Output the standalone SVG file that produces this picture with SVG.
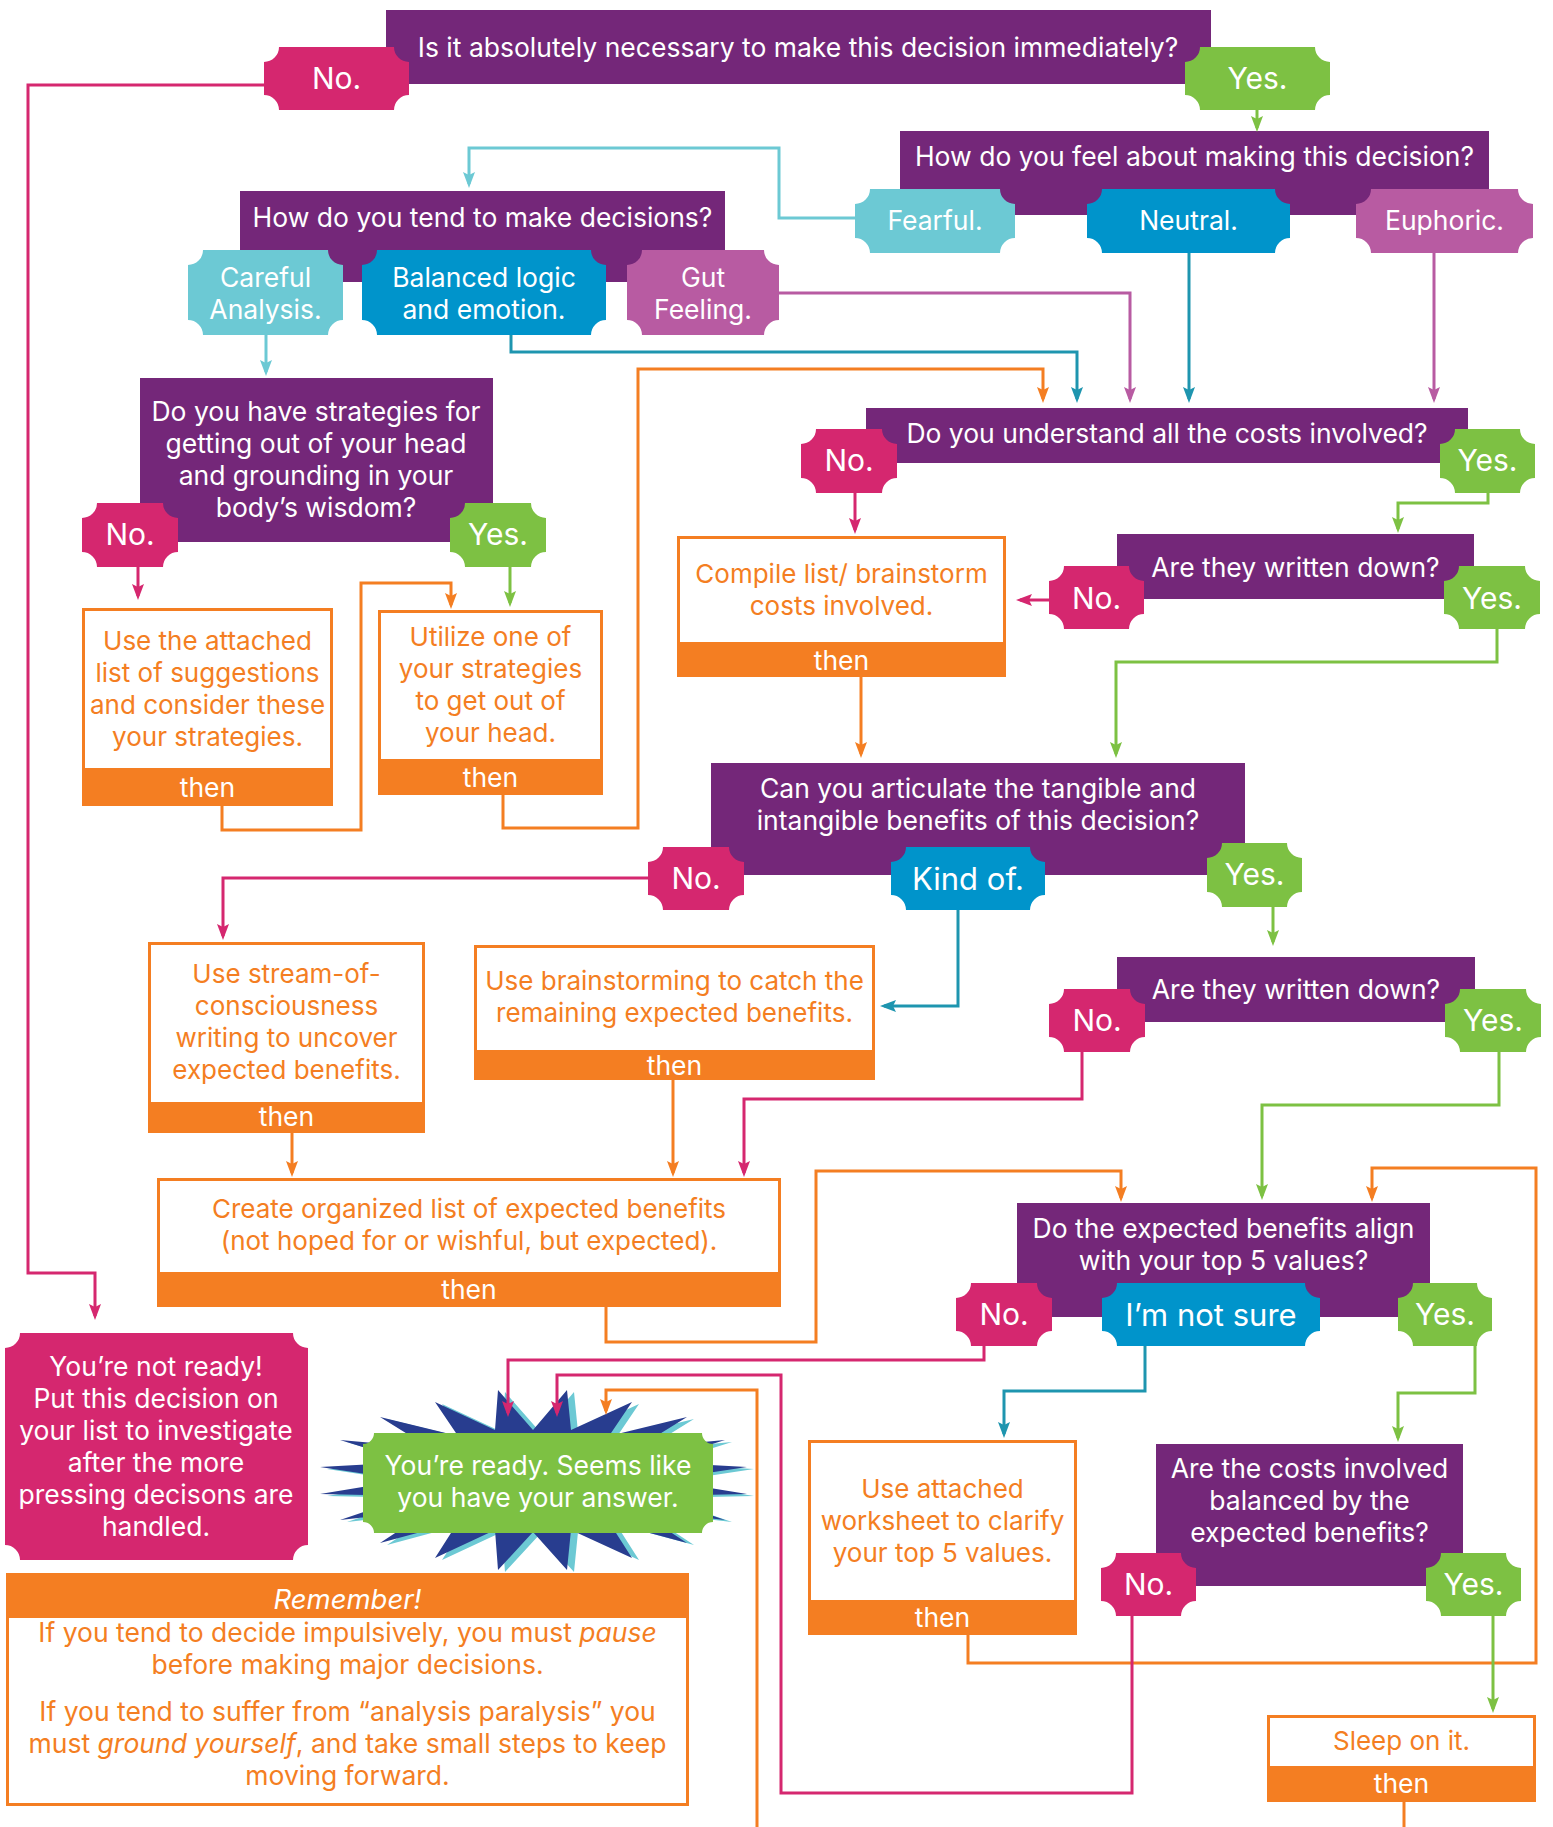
<svg xmlns="http://www.w3.org/2000/svg" width="1553" height="1827" viewBox="0 0 1553 1827">
<style>
text{font-family:Inter,'Open Sans','Liberation Sans',sans-serif;text-anchor:middle}
.q{fill:#742779}
.qt{fill:#fff;font-size:26.5px}
.pk{fill:#D5276F}.gr{fill:#7DC143}.lt{fill:#6CC9D4}.bl{fill:#0094CB}.mv{fill:#B85BA2}
.tt{fill:#fff;font-size:30px}
.tb{fill:#fff;font-size:31px}
.tm{fill:#fff;font-size:26.5px}
.ob{fill:#fff;stroke:#F47E22;stroke-width:3}
.bar{fill:#F47E22}
.ot{fill:#F47E22;font-size:26px}
.th{fill:#fff;font-size:26.5px}
.c{fill:none;stroke-width:3}
.cP{stroke:#D5276F;marker-end:url(#aP)}
.cG{stroke:#7DC143;marker-end:url(#aG)}
.cL{stroke:#6CC9D4;marker-end:url(#aL)}
.cD{stroke:#1E95AF;marker-end:url(#aD)}
.cM{stroke:#B85BA2;marker-end:url(#aM)}
.cO{stroke:#F47E22;marker-end:url(#aO)}
.cOn{stroke:#F47E22}
</style>
<defs>
<marker id="aP" viewBox="0 0 16 12" refX="12" refY="6" markerWidth="16" markerHeight="12" markerUnits="userSpaceOnUse" orient="auto"><path d="M0,0 L16,6 L0,12 L3,6 Z" fill="#D5276F"/></marker>
<marker id="aG" viewBox="0 0 16 12" refX="12" refY="6" markerWidth="16" markerHeight="12" markerUnits="userSpaceOnUse" orient="auto"><path d="M0,0 L16,6 L0,12 L3,6 Z" fill="#7DC143"/></marker>
<marker id="aL" viewBox="0 0 16 12" refX="12" refY="6" markerWidth="16" markerHeight="12" markerUnits="userSpaceOnUse" orient="auto"><path d="M0,0 L16,6 L0,12 L3,6 Z" fill="#6CC9D4"/></marker>
<marker id="aD" viewBox="0 0 16 12" refX="12" refY="6" markerWidth="16" markerHeight="12" markerUnits="userSpaceOnUse" orient="auto"><path d="M0,0 L16,6 L0,12 L3,6 Z" fill="#1E95AF"/></marker>
<marker id="aM" viewBox="0 0 16 12" refX="12" refY="6" markerWidth="16" markerHeight="12" markerUnits="userSpaceOnUse" orient="auto"><path d="M0,0 L16,6 L0,12 L3,6 Z" fill="#B85BA2"/></marker>
<marker id="aO" viewBox="0 0 16 12" refX="12" refY="6" markerWidth="16" markerHeight="12" markerUnits="userSpaceOnUse" orient="auto"><path d="M0,0 L16,6 L0,12 L3,6 Z" fill="#F47E22"/></marker>
<polygon id="star" points="435,1402 495,1430 498,1390 533,1430 567,1390 571,1430 632,1402 609,1436 687,1417 637,1448 725,1440 655,1462 747,1467 661,1480 747,1494 655,1496 725,1520 637,1510 687,1543 609,1522 632,1558 571,1530 567,1570 533,1532 498,1570 495,1530 435,1558 458,1522 380,1543 430,1510 340,1520 411,1496 320,1494 405,1480 320,1467 411,1462 340,1440 430,1448 380,1417 458,1436"/>
</defs>
<rect width="1553" height="1827" fill="#fff"/>

<g id="q-immediately">
<rect class="q" x="386" y="10" width="825" height="74"/>
<text class="qt" x="798" y="57">Is it absolutely necessary to make this decision immediately?</text>
<path class="pk" d="M279,47 H394 A15,15 0 0 0 409,62 V95 A15,15 0 0 0 394,110 H279 A15,15 0 0 0 264,95 V62 A15,15 0 0 0 279,47 Z"/>
<text class="tt" x="336.5" y="89">No.</text>
<path class="gr" d="M1200,47 H1315 A15,15 0 0 0 1330,62 V95 A15,15 0 0 0 1315,110 H1200 A15,15 0 0 0 1185,95 V62 A15,15 0 0 0 1200,47 Z"/>
<text class="tt" x="1257.5" y="89">Yes.</text>
</g>

<g id="q-feel">
<rect class="q" x="900" y="131" width="589" height="84"/>
<text class="qt" x="1194.5" y="166">How do you feel about making this decision?</text>
<path class="lt" d="M870,189 H1000 A15,15 0 0 0 1015,204 V238 A15,15 0 0 0 1000,253 H870 A15,15 0 0 0 855,238 V204 A15,15 0 0 0 870,189 Z"/>
<text class="tm" x="935" y="230">Fearful.</text>
<path class="bl" d="M1102,189 H1275 A15,15 0 0 0 1290,204 V238 A15,15 0 0 0 1275,253 H1102 A15,15 0 0 0 1087,238 V204 A15,15 0 0 0 1102,189 Z"/>
<text class="tm" x="1188.5" y="230">Neutral.</text>
<path class="mv" d="M1371,189 H1518 A15,15 0 0 0 1533,204 V238 A15,15 0 0 0 1518,253 H1371 A15,15 0 0 0 1356,238 V204 A15,15 0 0 0 1371,189 Z"/>
<text class="tm" x="1444.5" y="230">Euphoric.</text>
</g>

<g id="q-tend">
<rect class="q" x="240" y="191" width="485" height="91"/>
<text class="qt" x="482.5" y="227">How do you tend to make decisions?</text>
<path class="lt" d="M203,250 H328 A15,15 0 0 0 343,265 V320 A15,15 0 0 0 328,335 H203 A15,15 0 0 0 188,320 V265 A15,15 0 0 0 203,250 Z"/>
<text class="tm"><tspan x="265.5" y="287">Careful</tspan><tspan x="265.5" y="319">Analysis.</tspan></text>
<path class="bl" d="M377,250 H591 A15,15 0 0 0 606,265 V320 A15,15 0 0 0 591,335 H377 A15,15 0 0 0 362,320 V265 A15,15 0 0 0 377,250 Z"/>
<text class="tm"><tspan x="484" y="287">Balanced logic</tspan><tspan x="484" y="319">and emotion.</tspan></text>
<path class="mv" d="M642,250 H764 A15,15 0 0 0 779,265 V320 A15,15 0 0 0 764,335 H642 A15,15 0 0 0 627,320 V265 A15,15 0 0 0 642,250 Z"/>
<text class="tm"><tspan x="703" y="287">Gut</tspan><tspan x="703" y="319">Feeling.</tspan></text>
</g>

<g id="q-strategies">
<rect class="q" x="140" y="378" width="353" height="164"/>
<text class="qt"><tspan x="316" y="421">Do you have strategies for</tspan><tspan x="316" y="453">getting out of your head</tspan><tspan x="316" y="485">and grounding in your</tspan><tspan x="316" y="517">body’s wisdom?</tspan></text>
<path class="pk" d="M97,503 H163 A15,15 0 0 0 178,518 V552 A15,15 0 0 0 163,567 H97 A15,15 0 0 0 82,552 V518 A15,15 0 0 0 97,503 Z"/>
<text class="tt" x="130" y="545">No.</text>
<path class="gr" d="M465,503 H531 A15,15 0 0 0 546,518 V552 A15,15 0 0 0 531,567 H465 A15,15 0 0 0 450,552 V518 A15,15 0 0 0 465,503 Z"/>
<text class="tt" x="498" y="545">Yes.</text>
</g>

<g id="a-attached-list">
<rect class="ob" x="83.5" y="609.5" width="248" height="160"/>
<rect class="bar" x="82" y="768" width="251" height="38"/>
<text class="ot"><tspan x="207.5" y="650">Use the attached</tspan><tspan x="207.5" y="682">list of suggestions</tspan><tspan x="207.5" y="714">and consider these</tspan><tspan x="207.5" y="746">your strategies.</tspan></text>
<text class="th" x="207.5" y="797">then</text>
</g>

<g id="a-utilize">
<rect class="ob" x="379.5" y="611.5" width="222" height="149"/>
<rect class="bar" x="378" y="759" width="225" height="36"/>
<text class="ot"><tspan x="490.5" y="646">Utilize one of</tspan><tspan x="490.5" y="678">your strategies</tspan><tspan x="490.5" y="710">to get out of</tspan><tspan x="490.5" y="742">your head.</tspan></text>
<text class="th" x="490.5" y="787">then</text>
</g>

<g id="q-costs">
<rect class="q" x="866" y="408" width="602" height="55"/>
<text class="qt" x="1167" y="443">Do you understand all the costs involved?</text>
<path class="pk" d="M816,429 H882 A15,15 0 0 0 897,444 V478 A15,15 0 0 0 882,493 H816 A15,15 0 0 0 801,478 V444 A15,15 0 0 0 816,429 Z"/>
<text class="tt" x="849" y="471">No.</text>
<path class="gr" d="M1455,429 H1520 A15,15 0 0 0 1535,444 V478 A15,15 0 0 0 1520,493 H1455 A15,15 0 0 0 1440,478 V444 A15,15 0 0 0 1455,429 Z"/>
<text class="tt" x="1487.5" y="471">Yes.</text>
</g>

<g id="a-compile">
<rect class="ob" x="678.5" y="537.5" width="326" height="106"/>
<rect class="bar" x="677" y="642" width="329" height="35"/>
<text class="ot"><tspan x="841.5" y="583">Compile list/ brainstorm</tspan><tspan x="841.5" y="615">costs involved.</tspan></text>
<text class="th" x="841.5" y="670">then</text>
</g>

<g id="q-written-costs">
<rect class="q" x="1117" y="534" width="357" height="65"/>
<text class="qt" x="1295.5" y="577">Are they written down?</text>
<path class="pk" d="M1064,566 H1129 A15,15 0 0 0 1144,581 V614 A15,15 0 0 0 1129,629 H1064 A15,15 0 0 0 1049,614 V581 A15,15 0 0 0 1064,566 Z"/>
<text class="tt" x="1096.5" y="609">No.</text>
<path class="gr" d="M1459,566 H1525 A15,15 0 0 0 1540,581 V614 A15,15 0 0 0 1525,629 H1459 A15,15 0 0 0 1444,614 V581 A15,15 0 0 0 1459,566 Z"/>
<text class="tt" x="1492" y="609">Yes.</text>
</g>

<g id="q-benefits">
<rect class="q" x="711" y="763" width="534" height="112"/>
<text class="qt"><tspan x="978" y="798">Can you articulate the tangible and</tspan><tspan x="978" y="830">intangible benefits of this decision?</tspan></text>
<path class="pk" d="M663,847 H729 A15,15 0 0 0 744,862 V895 A15,15 0 0 0 729,910 H663 A15,15 0 0 0 648,895 V862 A15,15 0 0 0 663,847 Z"/>
<text class="tt" x="696" y="889">No.</text>
<path class="bl" d="M906,847 H1030 A15,15 0 0 0 1045,862 V895 A15,15 0 0 0 1030,910 H906 A15,15 0 0 0 891,895 V862 A15,15 0 0 0 906,847 Z"/>
<text class="tb" x="968" y="890">Kind of.</text>
<path class="gr" d="M1222,843 H1287 A15,15 0 0 0 1302,858 V892 A15,15 0 0 0 1287,907 H1222 A15,15 0 0 0 1207,892 V858 A15,15 0 0 0 1222,843 Z"/>
<text class="tt" x="1254.5" y="885">Yes.</text>
</g>

<g id="q-written-benefits">
<rect class="q" x="1117" y="957" width="358" height="65"/>
<text class="qt" x="1296" y="999">Are they written down?</text>
<path class="pk" d="M1064,989 H1130 A15,15 0 0 0 1145,1004 V1037 A15,15 0 0 0 1130,1052 H1064 A15,15 0 0 0 1049,1037 V1004 A15,15 0 0 0 1064,989 Z"/>
<text class="tt" x="1097" y="1031">No.</text>
<path class="gr" d="M1460,989 H1526 A15,15 0 0 0 1541,1004 V1037 A15,15 0 0 0 1526,1052 H1460 A15,15 0 0 0 1445,1037 V1004 A15,15 0 0 0 1460,989 Z"/>
<text class="tt" x="1493" y="1031">Yes.</text>
</g>

<g id="a-stream">
<rect class="ob" x="149.5" y="943.5" width="274" height="160"/>
<rect class="bar" x="148" y="1102" width="277" height="31"/>
<text class="ot"><tspan x="286.5" y="983">Use stream-of-</tspan><tspan x="286.5" y="1015">consciousness</tspan><tspan x="286.5" y="1047">writing to uncover</tspan><tspan x="286.5" y="1079">expected benefits.</tspan></text>
<text class="th" x="286.5" y="1126">then</text>
</g>

<g id="a-brainstorm">
<rect class="ob" x="475.5" y="946.5" width="398" height="105"/>
<rect class="bar" x="474" y="1050" width="401" height="30"/>
<text class="ot"><tspan x="674.5" y="990">Use brainstorming to catch the</tspan><tspan x="674.5" y="1022">remaining expected benefits.</tspan></text>
<text class="th" x="674.5" y="1075">then</text>
</g>

<g id="a-create">
<rect class="ob" x="158.5" y="1179.5" width="621" height="94"/>
<rect class="bar" x="157" y="1272" width="624" height="35"/>
<text class="ot"><tspan x="469" y="1218">Create organized list of expected benefits</tspan><tspan x="469" y="1250">(not hoped for or wishful, but expected).</tspan></text>
<text class="th" x="469" y="1299">then</text>
</g>

<g id="q-values">
<rect class="q" x="1017" y="1203" width="413" height="114"/>
<text class="qt"><tspan x="1223.5" y="1238">Do the expected benefits align</tspan><tspan x="1223.5" y="1270">with your top 5 values?</tspan></text>
<path class="pk" d="M971,1283 H1037 A15,15 0 0 0 1052,1298 V1331 A15,15 0 0 0 1037,1346 H971 A15,15 0 0 0 956,1331 V1298 A15,15 0 0 0 971,1283 Z"/>
<text class="tt" x="1004" y="1325">No.</text>
<path class="bl" d="M1117,1283 H1305 A15,15 0 0 0 1320,1298 V1331 A15,15 0 0 0 1305,1346 H1117 A15,15 0 0 0 1102,1331 V1298 A15,15 0 0 0 1117,1283 Z"/>
<text class="tb" x="1211" y="1326">I’m not sure</text>
<path class="gr" d="M1413,1283 H1477 A15,15 0 0 0 1492,1298 V1331 A15,15 0 0 0 1477,1346 H1413 A15,15 0 0 0 1398,1331 V1298 A15,15 0 0 0 1413,1283 Z"/>
<text class="tt" x="1445" y="1325">Yes.</text>
</g>

<g id="a-worksheet">
<rect class="ob" x="809.5" y="1441.5" width="266" height="160"/>
<rect class="bar" x="808" y="1600" width="269" height="35"/>
<text class="ot"><tspan x="942.5" y="1498">Use attached</tspan><tspan x="942.5" y="1530">worksheet to clarify</tspan><tspan x="942.5" y="1562">your top 5 values.</tspan></text>
<text class="th" x="942.5" y="1627">then</text>
</g>

<g id="q-balanced">
<rect class="q" x="1156" y="1444" width="307" height="142"/>
<text class="qt"><tspan x="1309.5" y="1478">Are the costs involved</tspan><tspan x="1309.5" y="1510">balanced by the</tspan><tspan x="1309.5" y="1542">expected benefits?</tspan></text>
<path class="pk" d="M1116,1553 H1181 A15,15 0 0 0 1196,1568 V1601 A15,15 0 0 0 1181,1616 H1116 A15,15 0 0 0 1101,1601 V1568 A15,15 0 0 0 1116,1553 Z"/>
<text class="tt" x="1148.5" y="1595">No.</text>
<path class="gr" d="M1441,1553 H1506 A15,15 0 0 0 1521,1568 V1601 A15,15 0 0 0 1506,1616 H1441 A15,15 0 0 0 1426,1601 V1568 A15,15 0 0 0 1441,1553 Z"/>
<text class="tt" x="1473.5" y="1595">Yes.</text>
</g>

<g id="a-sleep">
<rect class="ob" x="1268.5" y="1716.5" width="266" height="51"/>
<rect class="bar" x="1267" y="1766" width="269" height="36"/>
<text class="ot" x="1401.5" y="1750">Sleep on it.</text>
<text class="th" x="1401.5" y="1793">then</text>
</g>

<g id="r-not-ready">
<path class="pk" d="M20,1333 H293 A15,15 0 0 0 308,1348 V1545 A15,15 0 0 0 293,1560 H20 A15,15 0 0 0 5,1545 V1348 A15,15 0 0 0 20,1333 Z"/>
<text class="tm"><tspan x="156" y="1376">You’re not ready!</tspan><tspan x="156" y="1408">Put this decision on</tspan><tspan x="156" y="1440">your list to investigate</tspan><tspan x="156" y="1472">after the more</tspan><tspan x="156" y="1504">pressing decisons are</tspan><tspan x="156" y="1536">handled.</tspan></text>
</g>

<g id="r-ready">
<use href="#star" transform="translate(7,2)" fill="#6CC9D4"/>
<use href="#star" fill="#283D8F"/>
<path class="gr" d="M374,1433 H702 A11,11 0 0 0 713,1444 V1522 A11,11 0 0 0 702,1533 H374 A11,11 0 0 0 363,1522 V1444 A11,11 0 0 0 374,1433 Z"/>
<text class="tm"><tspan x="538" y="1475">You’re ready. Seems like</tspan><tspan x="538" y="1507">you have your answer.</tspan></text>
</g>

<g id="n-remember">
<rect class="ob" x="7.5" y="1574.5" width="680" height="230"/>
<rect class="bar" x="6" y="1573" width="683" height="45"/>
<text class="th" x="347.5" y="1609" font-style="italic" style="font-size:27.5px">Remember!</text>
<text class="ot" style="font-size:26.5px"><tspan x="347.5" y="1642">If you tend to decide impulsively, you must <tspan font-style="italic">pause</tspan></tspan><tspan x="347.5" y="1674">before making major decisions.</tspan><tspan x="347.5" y="1721">If you tend to suffer from “analysis paralysis” you</tspan><tspan x="347.5" y="1753">must <tspan font-style="italic">ground yourself</tspan>, and take small steps to keep</tspan><tspan x="347.5" y="1785">moving forward.</tspan></text>
</g>

<g id="connectors">
<path class="c cP" d="M264,85 H28 V1273 H95 V1316"/>
<path class="c cG" d="M1257,110 V128"/>
<path class="c cL" d="M855,218 H779 V148 H469 V184"/>
<path class="c cL" d="M266,335 V372"/>
<path class="c cD" d="M511,335 V352 H1077 V399"/>
<path class="c cM" d="M779,293 H1130 V399"/>
<path class="c cO" d="M503,795 V828 H638 V369 H1043 V399"/>
<path class="c cD" d="M1189,253 V399"/>
<path class="c cM" d="M1434,253 V399"/>
<path class="c cP" d="M138,567 V596"/>
<path class="c cG" d="M510,567 V603"/>
<path class="c cO" d="M222,806 V830 H361 V583 H451 V605"/>
<path class="c cP" d="M855,493 V530"/>
<path class="c cG" d="M1488,493 V503 H1398 V529"/>
<path class="c cP" d="M1049,600 H1020"/>
<path class="c cG" d="M1497,629 V662 H1116 V754"/>
<path class="c cO" d="M861,677 V754"/>
<path class="c cP" d="M648,878 H223 V936"/>
<path class="c cD" d="M958,910 V1006 H884"/>
<path class="c cG" d="M1273,907 V942"/>
<path class="c cP" d="M1082,1052 V1099 H744 V1173"/>
<path class="c cG" d="M1499,1052 V1105 H1262 V1196"/>
<path class="c cO" d="M292,1133 V1173"/>
<path class="c cO" d="M673,1080 V1173"/>
<path class="c cO" d="M606,1307 V1342 H816 V1171 H1121 V1198"/>
<path class="c cO" d="M968,1635 V1663 H1536 V1168 H1372 V1198"/>
<path class="c cP" d="M984,1346 V1360 H508 V1413"/>
<path class="c cP" d="M1132,1616 V1793 H781 V1375 H557 V1413"/>
<path class="c cO" d="M757,1827 V1390 H606 V1411"/>
<path class="c cD" d="M1145,1346 V1391 H1004 V1434"/>
<path class="c cG" d="M1475,1346 V1393 H1398 V1438"/>
<path class="c cG" d="M1493,1616 V1709"/>
<path class="c cOn" d="M1404,1802 V1827"/>
</g>
</svg>
